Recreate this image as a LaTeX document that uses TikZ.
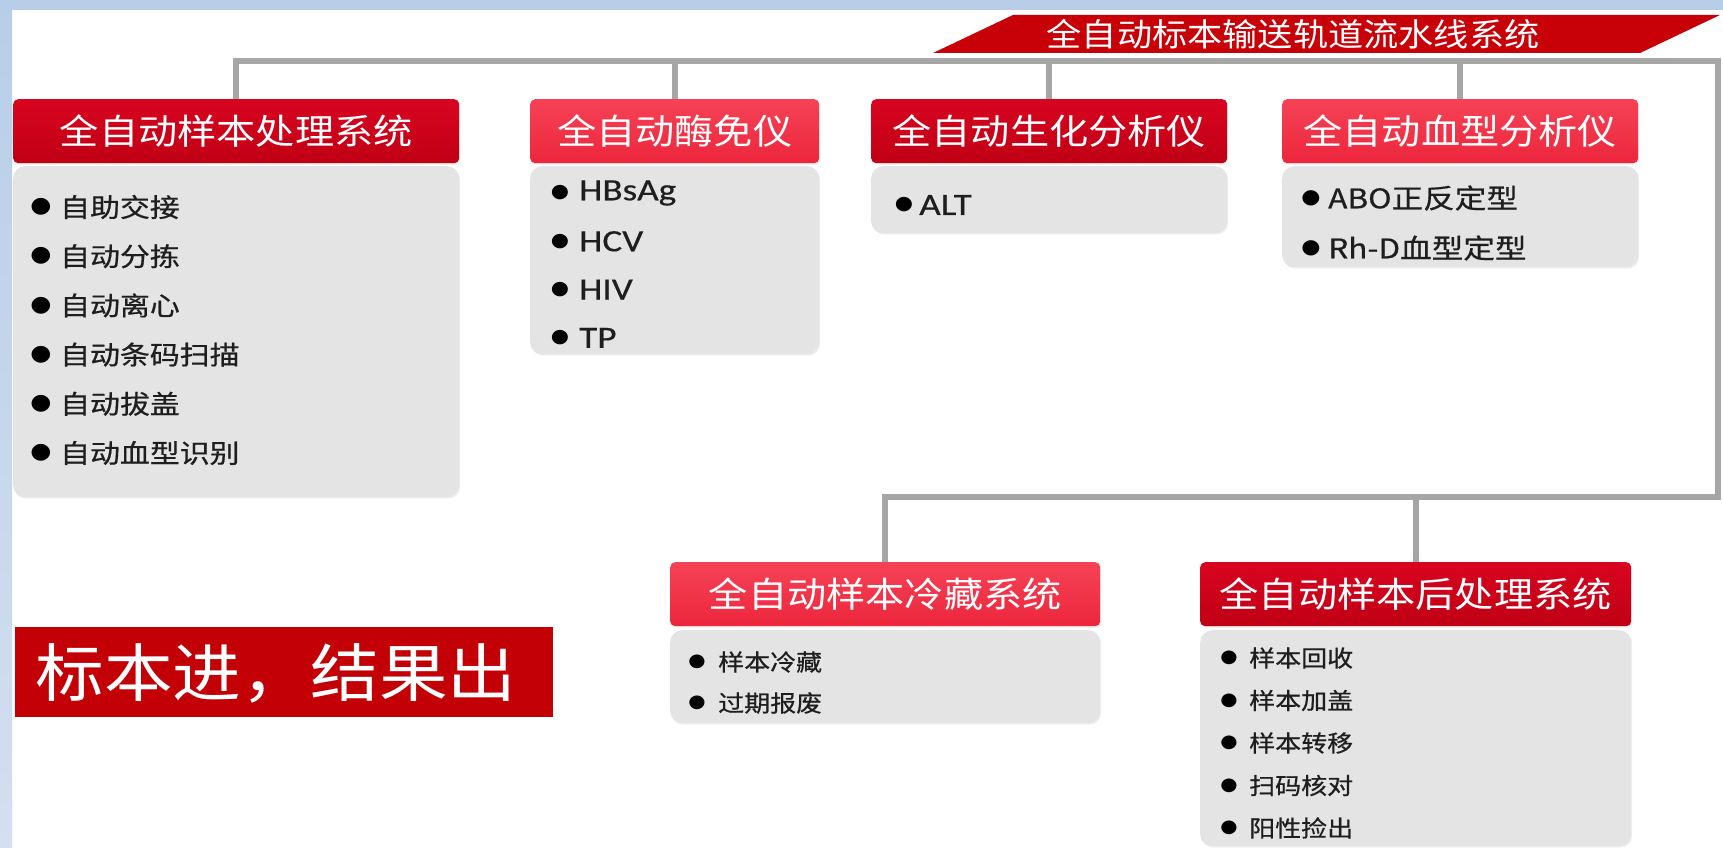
\documentclass[tikz,border=0pt]{standalone}
\usepackage{fontspec}
\usepackage{graphicx}
\newfontfamily\cjk{Noto Sans CJK SC}
\newfontfamily\cjkm[FakeBold=0.6]{Noto Sans CJK SC}
\newfontfamily\carl[FakeBold=0.4]{Carlito}
\newfontfamily\symf{DejaVu Sans}
\usetikzlibrary{shadows}
\definecolor{frameblue}{RGB}{184,206,232}
\definecolor{framelow}{RGB}{212,223,240}
\definecolor{hdarktop}{RGB}{216,4,32}
\definecolor{hdarkbot}{RGB}{192,0,20}
\definecolor{hlighttop}{RGB}{246,66,86}
\definecolor{hlightbot}{RGB}{236,38,60}
\definecolor{titlered}{RGB}{200,0,8}
\definecolor{slogred}{RGB}{194,0,6}
\definecolor{bodygray}{RGB}{228,228,228}
\definecolor{linegray}{RGB}{166,166,166}
\definecolor{itemtext}{RGB}{30,30,30}
\newcommand\sx[2][1.12]{\scalebox{#1}[1]{#2}}
\begin{document}
\begin{tikzpicture}[x=1pt,y=-1pt,
  hdr/.style={rounded corners=5pt, inner sep=0pt, anchor=north west, minimum height=64pt,
    text=white, font=\cjk\fontsize{35}{40}\selectfont,
    drop shadow={shadow xshift=1pt,shadow yshift=-1.5pt,opacity=.15}},
  hdark/.style={hdr, top color=hdarktop, bottom color=hdarkbot},
  hlight/.style={hdr, top color=hlighttop, bottom color=hlightbot},
  body/.style={fill=bodygray, rounded corners=12pt, inner sep=0pt, anchor=north west,
    drop shadow={shadow xshift=1pt,shadow yshift=-1.5pt,opacity=.12}},
  conn/.style={draw=linegray, line width=6pt},
  itm/.style={anchor=west, inner sep=0pt, text=itemtext},
  bul/.style={inner sep=0pt, text=black}
]
% canvas and frame
\fill[white] (0,0) rectangle (1723,848);
\useasboundingbox (0,0) rectangle (1723,848);
\fill[frameblue] (0,0) rectangle (1723,10);
\shade[top color=frameblue, bottom color=framelow] (0,0) rectangle (12,848);

% title banner
\fill[titlered] (933,53) -- (1013,15) -- (1720,15) -- (1640,53) -- cycle;
\node[text=white, inner sep=0pt, font=\cjk\fontsize{32}{36}\selectfont] (title) at (1293,34)
  {\sx[1.1]{全自动标本输送轨道流水线系统}};

% headers
\node[hdark, minimum width=446pt] (h1) at (13,99) {\sx{全自动样本处理系统}};
\node[hlight, minimum width=289pt] (h2) at (530,99) {\sx{全自动酶免仪}};
\node[hdark, minimum width=356pt] (h3) at (871,99) {\sx{全自动生化分析仪}};
\node[hlight, minimum width=356pt] (h4) at (1282,99) {\sx{全自动血型分析仪}};
\node[hlight, minimum width=430pt] (h5) at (670,562) {\sx{全自动样本冷藏系统}};
\node[hdark, minimum width=431pt] (h6) at (1200,562) {\sx{全自动样本后处理系统}};

% connectors
\coordinate (busR) at (1718,61);
\coordinate (busR2) at (1718,497);
\draw[conn] (h1.north) |- (busR) -- (busR2) -| (h5.north);
\draw[conn] (h2.north) -- (h2.north |- busR);
\draw[conn] (h3.north) -- (h3.north |- busR);
\draw[conn] (h4.north) -- (h4.north |- busR);
\draw[conn] (h6.north) -- (h6.north |- busR2);

% bodies
\node[body, minimum width=446pt, minimum height=331pt] (b1) at (13,166) {};
\node[body, minimum width=289pt, minimum height=188pt] (b2) at (530,166) {};
\node[body, minimum width=356pt, minimum height=67pt] (b3) at (871,166) {};
\node[body, minimum width=356pt, minimum height=101pt] (b4) at (1282,166) {};
\node[body, minimum width=430pt, minimum height=93pt] (b5) at (670,630) {};
\node[body, minimum width=431pt, minimum height=216pt] (b6) at (1200,630) {};

% items box 1
\foreach \t [count=\i] in {自助交接,自动分拣,自动离心,自动条码扫描,自动拔盖,自动血型识别}{
  \pgfmathsetmacro\yy{207+(\i-1)*49.2}
  \node[bul, font=\symf\fontsize{22}{26}\selectfont] (b1d\i) at (41,\yy) {\sx[1.1]{●}};
  \node[itm, font=\cjkm\fontsize{26}{30}\selectfont] (b1t\i) at (60,\yy) {\sx[1.15]{\t}};
}
% items box 2
\foreach \t [count=\i] in {HBsAg,HCV,HIV,TP}{
  \pgfmathsetmacro\yy{193+(\i-1)*48.3}
  \node[bul, font=\symf\fontsize{19}{24}\selectfont] (b2d\i) at (560,\yy) {\sx[1.1]{●}};
  \node[itm, font=\carl\fontsize{31}{34}\selectfont] (b2t\i) at (579,\yy) {\sx[1.2]{\t}};
}
% items box 3
\node[bul, font=\symf\fontsize{19}{24}\selectfont] (b3d1) at (904,205) {\sx[1.1]{●}};
\node[itm, font=\carl\fontsize{31}{34}\selectfont] (b3t1) at (919,205) {\sx[1.2]{ALT}};
% items box 4
\foreach \t [count=\i] in {ABO正反定型,Rh-D血型定型}{
  \pgfmathsetmacro\yy{198+(\i-1)*50}
  \node[bul, font=\symf\fontsize{20}{24}\selectfont] (b4d\i) at (1311,\yy) {\sx[1.1]{●}};
  \node[itm, font=\cjkm\fontsize{27}{30}\selectfont] (b4t\i) at (1328,\yy) {\sx[1.17]{\t}};
}
% items box 5
\foreach \t [count=\i] in {样本冷藏,过期报废}{
  \pgfmathsetmacro\yy{662+(\i-1)*41}
  \node[bul, font=\symf\fontsize{18}{22}\selectfont] (b5d\i) at (697,\yy) {\sx[1.1]{●}};
  \node[itm, font=\cjkm\fontsize{23}{26}\selectfont] (b5t\i) at (718,\yy) {\sx[1.13]{\t}};
}
% items box 6
\foreach \t [count=\i] in {样本回收,样本加盖,样本转移,扫码核对,阳性捡出}{
  \pgfmathsetmacro\yy{658+(\i-1)*42.5}
  \node[bul, font=\symf\fontsize{18}{22}\selectfont] (b6d\i) at (1229,\yy) {\sx[1.1]{●}};
  \node[itm, font=\cjkm\fontsize{23}{26}\selectfont] (b6t\i) at (1249,\yy) {\sx[1.13]{\t}};
}

% slogan
\node[fill=slogred, inner sep=0pt, anchor=north west, minimum width=538pt, minimum height=90pt] (slogan) at (15,627) {};
\node[text=white, inner sep=0pt, font=\cjk\fontsize{63}{70}\selectfont] (slogantext) at (276,673)
  {\sx[1.09]{标本进，结果出}};
\end{tikzpicture}
\end{document}
